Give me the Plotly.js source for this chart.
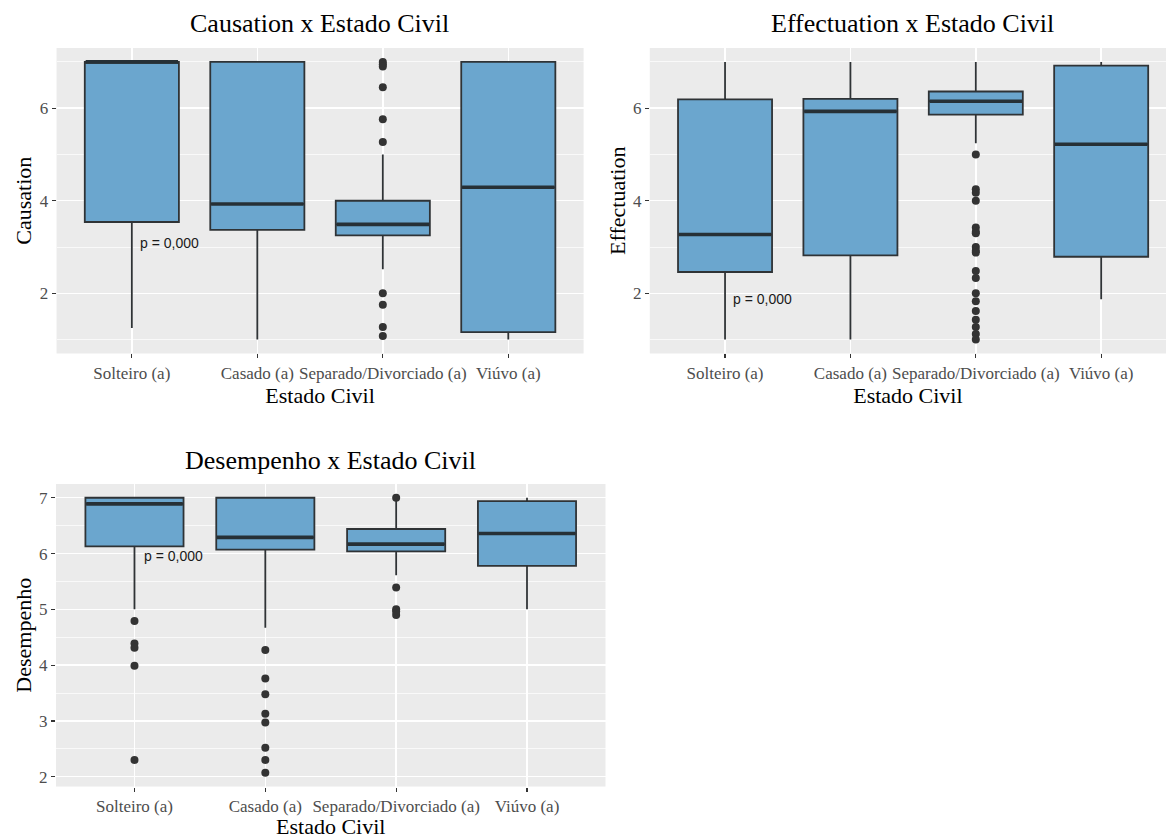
<!DOCTYPE html>
<html>
<head>
<meta charset="utf-8">
<script src="https://cdn.plot.ly/plotly-3.0.1.min.js"></script>
<style>
  html, body { margin: 0; padding: 0; background: #ffffff; }
  #chart { width: 1166px; height: 839px; }
</style>
</head>
<body>
<div id="chart"></div>
<script>
// ---------- DATA ----------
const categories = ["Solteiro (a)", "Casado (a)", "Separado/Divorciado (a)", "Viúvo (a)"];

// Causation
const causationQ1      = [3.54, 3.37, 3.25, 1.16];
const causationMedian  = [7.00, 3.93, 3.49, 4.29];
const causationQ3      = [7.00, 7.00, 4.00, 7.00];
const causationLower   = [1.25, 1.00, 2.52, 1.00];
const causationUpper   = [7.00, 7.00, 5.00, 7.00];
const causationOutCat  = ["Separado/Divorciado (a)", "Separado/Divorciado (a)", "Separado/Divorciado (a)", "Separado/Divorciado (a)", "Separado/Divorciado (a)", "Separado/Divorciado (a)", "Separado/Divorciado (a)", "Separado/Divorciado (a)", "Separado/Divorciado (a)", "Separado/Divorciado (a)"];
const causationOutVal  = [7.00, 6.95, 6.90, 6.45, 5.76, 5.27, 2.00, 1.75, 1.27, 1.08];

// Effectuation
const effectuationQ1     = [2.46, 2.82, 5.86, 2.79];
const effectuationMedian = [3.27, 5.93, 6.15, 5.22];
const effectuationQ3     = [6.19, 6.20, 6.36, 6.92];
const effectuationLower  = [1.00, 1.00, 5.24, 1.87];
const effectuationUpper  = [7.00, 7.00, 7.00, 7.00];
const effectuationOutCat = ["Separado/Divorciado (a)", "Separado/Divorciado (a)", "Separado/Divorciado (a)", "Separado/Divorciado (a)", "Separado/Divorciado (a)", "Separado/Divorciado (a)", "Separado/Divorciado (a)", "Separado/Divorciado (a)", "Separado/Divorciado (a)", "Separado/Divorciado (a)", "Separado/Divorciado (a)", "Separado/Divorciado (a)", "Separado/Divorciado (a)", "Separado/Divorciado (a)", "Separado/Divorciado (a)", "Separado/Divorciado (a)", "Separado/Divorciado (a)", "Separado/Divorciado (a)", "Separado/Divorciado (a)"];
const effectuationOutVal = [5.00, 4.25, 4.17, 4.00, 3.42, 3.33, 3.30, 3.00, 2.92, 2.88, 2.48, 2.33, 2.00, 1.83, 1.62, 1.43, 1.27, 1.12, 1.00];

// Desempenho
const desempenhoQ1     = [6.13, 6.07, 6.04, 5.78];
const desempenhoMedian = [6.89, 6.29, 6.17, 6.36];
const desempenhoQ3     = [7.00, 7.00, 6.44, 6.94];
const desempenhoLower  = [5.00, 4.67, 5.61, 5.00];
const desempenhoUpper  = [7.00, 7.00, 7.00, 7.00];
const desempenhoOutCat = ["Solteiro (a)", "Solteiro (a)", "Solteiro (a)", "Solteiro (a)", "Solteiro (a)",
                          "Casado (a)", "Casado (a)", "Casado (a)", "Casado (a)", "Casado (a)", "Casado (a)", "Casado (a)", "Casado (a)",
                          "Separado/Divorciado (a)", "Separado/Divorciado (a)", "Separado/Divorciado (a)", "Separado/Divorciado (a)", "Separado/Divorciado (a)"];
const desempenhoOutVal = [4.79, 4.39, 4.31, 3.99, 2.30,
                          4.27, 3.76, 3.48, 3.13, 2.97, 2.52, 2.30, 2.07,
                          7.00, 5.39, 5.00, 4.96, 4.90];

const pText = "p = 0,000";
const panelTitles = ["Causation x Estado Civil", "Effectuation x Estado Civil", "Desempenho x Estado Civil"];
const yTitles = ["Causation", "Effectuation", "Desempenho"];
const xTitle = "Estado Civil";

// ---------- STYLE ----------
const FILL = "#6BA6CE";
const EDGE = "#2f3336";
const MEDIAN = "#263036";
const SERIF = "'Times New Roman', 'Liberation Serif', serif";
const SANS = "Arial, 'Liberation Sans', sans-serif";

function boxTrace(q1, med, q3, lo, hi, xa, ya) {
  return {
    type: "box", x: categories, q1: q1, median: med, q3: q3,
    lowerfence: lo, upperfence: hi,
    boxpoints: false, width: 0.75, whiskerwidth: 0,
    fillcolor: FILL, line: { color: EDGE, width: 1.8 },
    xaxis: xa, yaxis: ya, hoverinfo: "skip", showlegend: false
  };
}
// thick median bar (ggplot fatten) drawn as a horizontal line marker at each median
function medianTrace(med, xa, ya, px) {
  return {
    type: "scatter", mode: "markers", x: categories, y: med,
    marker: { symbol: "line-ew", size: px, color: MEDIAN, line: { color: MEDIAN, width: 3.6 } },
    xaxis: xa, yaxis: ya, hoverinfo: "skip", showlegend: false
  };
}
function outlierTrace(cat, val, xa, ya) {
  return {
    type: "scatter", mode: "markers", x: cat, y: val,
    marker: { symbol: "circle", size: 8, color: "#333333" },
    xaxis: xa, yaxis: ya, hoverinfo: "skip", showlegend: false
  };
}

const data = [
  boxTrace(causationQ1, causationMedian, causationQ3, causationLower, causationUpper, "x", "y"),
  medianTrace(causationMedian, "x", "y", 66),
  outlierTrace(causationOutCat, causationOutVal, "x", "y"),
  boxTrace(effectuationQ1, effectuationMedian, effectuationQ3, effectuationLower, effectuationUpper, "x2", "y2"),
  medianTrace(effectuationMedian, "x2", "y2", 66),
  outlierTrace(effectuationOutCat, effectuationOutVal, "x2", "y2"),
  boxTrace(desempenhoQ1, desempenhoMedian, desempenhoQ3, desempenhoLower, desempenhoUpper, "x3", "y3"),
  medianTrace(desempenhoMedian, "x3", "y3", 69),
  outlierTrace(desempenhoOutCat, desempenhoOutVal, "x3", "y3")
];

function xAxis(domain, range, anchor) {
  return {
    domain: domain, range: range, anchor: anchor, type: "category",
    categoryorder: "array", categoryarray: categories,
    showgrid: true, gridcolor: "#ffffff", gridwidth: 1.4,
    zeroline: false, showline: false,
    ticks: "outside", ticklen: 4, tickwidth: 1.2, tickcolor: "#333333",
    tickangle: 0, tickfont: { family: SERIF, size: 17, color: "#4D4D4D" },
    title: { text: xTitle, font: { family: SERIF, size: 22, color: "#000000" }, standoff: 5 },
    fixedrange: true
  };
}
function yAxis(domain, range, dtick, minorDtick, anchor, title) {
  return {
    domain: domain, range: range, anchor: anchor,
    tick0: 0, dtick: dtick,
    showgrid: true, gridcolor: "#ffffff", gridwidth: 1.4,
    minor: { dtick: minorDtick, tick0: 0, showgrid: true, gridcolor: "#ffffff", gridwidth: 0.7, ticks: "" },
    zeroline: false, showline: false,
    ticks: "outside", ticklen: 4, tickwidth: 1.2, tickcolor: "#333333",
    tickfont: { family: SERIF, size: 17, color: "#4D4D4D" },
    title: { text: title, font: { family: SERIF, size: 22, color: "#000000" }, standoff: 1 },
    fixedrange: true
  };
}

const layout = {
  width: 1166, height: 839,
  margin: { l: 0, r: 0, t: 0, b: 0 },
  paper_bgcolor: "#ffffff",
  plot_bgcolor: "#EBEBEB",
  showlegend: false,
  xaxis:  xAxis([0.0485, 0.5005], [-0.6, 3.6], "y"),
  yaxis:  yAxis([0.5787, 0.9428], [0.7, 7.3], 2, 1, "x", yTitles[0]),
  xaxis2: xAxis([0.5573, 1.0], [-0.6, 3.517], "y2"),
  yaxis2: yAxis([0.5787, 0.9428], [0.7, 7.3], 2, 1, "x2", yTitles[1]),
  xaxis3: xAxis([0.048, 0.5193], [-0.6, 3.6], "y3"),
  yaxis3: yAxis([0.0625, 0.4231], [1.8235, 7.2465], 1, 0.5, "x3", yTitles[2]),
  annotations: [
    { text: panelTitles[0], xref: "paper", yref: "paper", x: 0.2744, y: 0.9714, xanchor: "center", yanchor: "middle", showarrow: false, font: { family: SERIF, size: 26, color: "#000000" } },
    { text: panelTitles[1], xref: "paper", yref: "paper", x: 0.783, y: 0.9714, xanchor: "center", yanchor: "middle", showarrow: false, font: { family: SERIF, size: 26, color: "#000000" } },
    { text: panelTitles[2], xref: "paper", yref: "paper", x: 0.2834, y: 0.4517, xanchor: "center", yanchor: "middle", showarrow: false, font: { family: SERIF, size: 26, color: "#000000" } },
    { text: pText, xref: "x", yref: "y", x: 0.05, y: 3.08, xanchor: "left", yanchor: "middle", showarrow: false, font: { family: SANS, size: 14, color: "#1a1a1a" } },
    { text: pText, xref: "x2", yref: "y2", x: 0.05, y: 1.87, xanchor: "left", yanchor: "middle", showarrow: false, font: { family: SANS, size: 14, color: "#1a1a1a" } },
    { text: pText, xref: "x3", yref: "y3", x: 0.06, y: 5.96, xanchor: "left", yanchor: "middle", showarrow: false, font: { family: SANS, size: 14, color: "#1a1a1a" } }
  ]
};

Plotly.newPlot("chart", data, layout, { displayModeBar: false, staticPlot: true });
</script>
</body>
</html>
